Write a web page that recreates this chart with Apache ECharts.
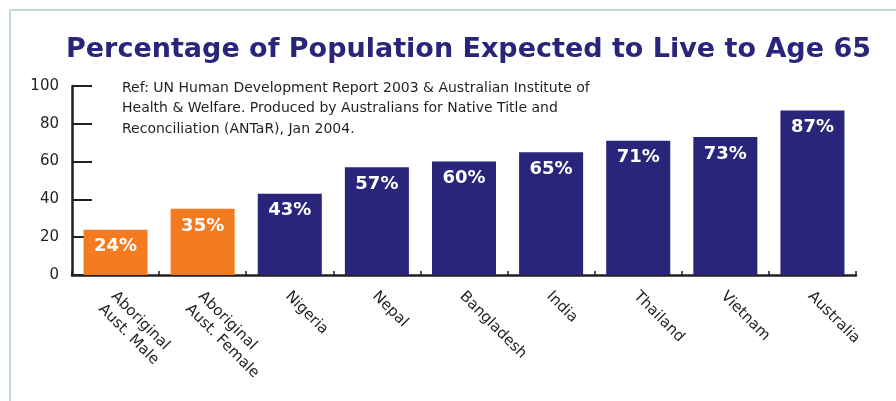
<!DOCTYPE html>
<html>
<head>
<meta charset="utf-8">
<script src="https://cdn.jsdelivr.net/npm/echarts@6/dist/echarts.min.js"></script>
<style>html,body{margin:0;padding:0;background:#fff;}#c{width:896px;height:401px;}</style>
</head>
<body>
<div id="c"></div>
<script>
const categories = ['Aboriginal\nAust. Male', 'Aboriginal\nAust. Female', 'Nigeria', 'Nepal', 'Bangladesh', 'India', 'Thailand', 'Vietnam', 'Australia'];
const values = [24, 35, 43, 57, 60, 65, 71, 73, 87];
const barColors = ['#f47b20', '#f47b20', '#29257b', '#29257b', '#29257b', '#29257b', '#29257b', '#29257b', '#29257b'];
const yTicks = [0, 20, 40, 60, 80, 100];
const titleText = 'Percentage of Population Expected to Live to Age 65';
const refText = 'Ref: UN Human Development Report 2003 & Australian Institute of\nHealth & Welfare. Produced by Australians for Native Title and\nReconciliation (ANTaR), Jan 2004.';

const FONT = 'DejaVu Sans';
const ink = '#231f20';
const chart = echarts.init(document.getElementById('c'), null, {renderer: 'canvas'});
chart.setOption({
  animation: false,
  backgroundColor: '#ffffff',
  title: [
    {text: titleText, left: 61, top: 31,
     textStyle: {fontFamily: FONT, fontSize: 27, fontWeight: 'bold', color: '#29257b'}},
    {text: refText, left: 117, top: 73,
     textStyle: {fontFamily: FONT, fontSize: 14, fontWeight: 'normal', color: ink, lineHeight: 20.5}}
  ],
  graphic: [
    {type: 'line', shape: {x1: 10, y1: 10, x2: 896, y2: 10}, style: {stroke: '#bfdcd4', lineWidth: 2}},
    {type: 'line', shape: {x1: 10, y1: 10, x2: 10, y2: 401}, style: {stroke: '#bfdcd4', lineWidth: 2}}
  ],
  grid: {left: 72, right: 40, top: 86, bottom: 126, containLabel: false},
  xAxis: {
    type: 'category', data: categories,
    axisLine: {show: true, lineStyle: {color: ink, width: 2.5}},
    axisTick: {show: true, inside: true, length: 4, lineStyle: {color: ink, width: 1.5}},
    axisLabel: {rotate: -45, interval: 0, margin: 17, verticalAlign: 'top', padding: [-6, 0, 0, 0],
                fontFamily: FONT, fontSize: 15, color: ink, lineHeight: 18}
  },
  yAxis: {
    type: 'value', min: yTicks[0], max: yTicks[yTicks.length - 1], interval: 20,
    splitLine: {show: false},
    axisLine: {show: true, lineStyle: {color: ink, width: 2.5}},
    axisTick: {show: true, inside: true, length: 20, lineStyle: {color: ink, width: 2}},
    axisLabel: {margin: 13, fontFamily: FONT, fontSize: 15, color: ink}
  },
  series: [{
    type: 'bar', barWidth: '73.5%',
    data: values.map((v, i) => ({value: v, itemStyle: {color: barColors[i]}})),
    label: {show: true, position: 'insideTop', distance: 8, formatter: '{c}%',
            fontFamily: FONT, fontSize: 18, fontWeight: 'bold', color: '#ffffff'}
  }]
});
</script>
</body>
</html>
